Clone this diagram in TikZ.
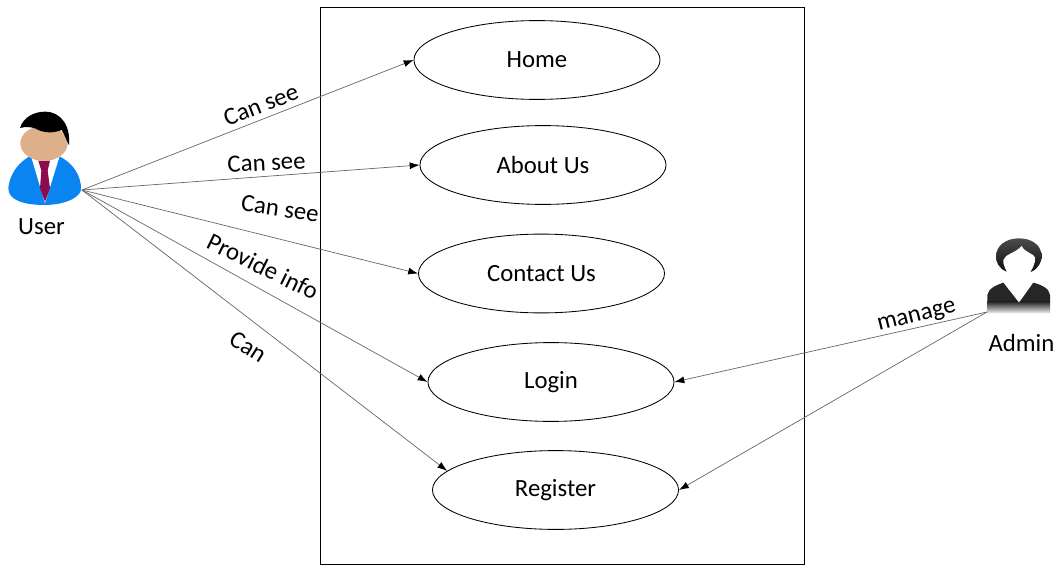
\documentclass[tikz,border=0pt]{standalone}
\usepackage{fontspec}
\setmainfont{Carlito}
\usetikzlibrary{arrows.meta, shapes.geometric}
\definecolor{jacket}{HTML}{0A84F0}
\definecolor{necktie}{HTML}{8B0A50}
\definecolor{skin}{HTML}{DDB08A}
\definecolor{wire}{HTML}{666666}
\tikzset{
  usecase/.style={draw, ellipse, line width=0.6pt, minimum width=6.15cm, minimum height=1.97cm, inner sep=0pt, font=\fontsize{17.6}{20}\selectfont},
  actorname/.style={inner sep=0pt, font=\fontsize{17.6}{20}\selectfont},
  wirelabel/.style={inner sep=0pt, font=\fontsize{17.6}{20}\selectfont},
  wirelink/.style={draw=wire, line width=0.5pt, -{Latex[length=7pt,width=5pt,black]}},
}
\begin{document}
\begin{tikzpicture}[x=0.025cm, y=-0.025cm]
    \useasboundingbox (0,0) rectangle (1060,565);
    % Draw system boundary
    \draw [line width=0.6pt] (320.5,7) rectangle (804,564.5);
    % Draw use cases
    \node [usecase] (home) at (537,60) {Home};
    \node [usecase] (about) at (543,165) {About Us};
    \node [usecase] (contact) at (541.5,273.5) {Contact Us};
    \node [usecase] (login) at (551,382) {Login};
    \node [usecase] (register) at (555.5,490) {Register};
    % Draw user figure
    \begin{scope} [shift={(0,100)}, scale=1/3]
      \fill [jacket] (95,165) -- (175,168) .. controls (215,185) and (245,225) .. (243,270) .. controls (235,300) and (180,315) .. (135,315) .. controls (70,315) and (25,300) .. (25,265) .. controls (30,215) and (60,185) .. (95,165) -- cycle; % jacket
      \fill [white] (92,165) -- (135,310) -- (180,165) -- cycle; % shirt
      \fill [necktie] (115,182) -- (150,182) -- (143,212) -- (150,265) -- (135,305) -- (120,265) -- (124,212) -- cycle; % tie
      \fill [skin] (132,130) ellipse [x radius=71, y radius=53]; % face
      \fill [black] (60,84) .. controls (70,50) and (105,35) .. (135,35) .. controls (185,35) and (212,80) .. (207,135) .. controls (200,125) and (195,105) .. (185,90) .. controls (160,100) and (130,100) .. (105,85) .. controls (90,80) and (75,80) .. (60,84) -- cycle; % hair
    \end{scope}
    % Draw admin figure
    \begin{scope} [shift={(970,230)}, scale=1/3]
      \shade [top color=black!70, bottom color=black!95] (110,125) .. controls (85,115) and (78,95) .. (78,80) .. controls (78,45) and (110,25) .. (147,25) .. controls (185,25) and (215,45) .. (215,80) .. controls (215,95) and (205,115) .. (185,125) -- cycle; % hair
      \fill [white] (115,135) .. controls (105,115) and (98,100) .. (100,90) .. controls (105,72) and (135,70) .. (155,48) .. controls (165,68) and (190,70) .. (195,82) .. controls (198,100) and (185,120) .. (175,135) -- cycle; % face
      \begin{scope}
        \clip (52,250) -- (52,195) .. controls (55,175) and (80,165) .. (100,158) -- (147,218) -- (190,158) .. controls (215,165) and (238,175) .. (240,195) -- (240,250) -- cycle; % body
        \fill [black!85] (40,150) rectangle (250,215);
        \shade [top color=black!85, bottom color=black!5] (40,215) rectangle (250,250);
      \end{scope}
    \end{scope}
    % Draw actor names
    \node [actorname] (username) at (41.5,226.5) {User};
    \node [actorname] (adminname) at (1021.5,342.5) {Admin};
    \coordinate (userhand) at (82,190);
    \coordinate (adminhand) at (987,312);
    % Draw links and labels
    \draw [wirelink] (userhand) -- (home.west);
    \draw [wirelink] (userhand) -- (about.west);
    \draw [wirelink] (userhand) -- (contact.west);
    \draw [wirelink] (userhand) -- (login.west);
    \draw [wirelink] (userhand) -- (register.170);
    \draw [wirelink] (adminhand) -- (login.east);
    \draw [wirelink] (adminhand) -- (register.east);
    \node [wirelabel, rotate=21] (seehome) at (261,105) {Can see};
    \node [wirelabel, rotate=3] (seeabout) at (266.5,162.5) {Can see};
    \node [wirelabel, rotate=-8] (seecontact) at (280,208.5) {Can see};
    \node [wirelabel, rotate=-26] (provide) at (263,266.5) {Provide info};
    \node [wirelabel, rotate=-32] (can) at (248,346.5) {Can};
    \node [wirelabel, rotate=14] (manage) at (917,317.5) {manage};
\end{tikzpicture}
\end{document}
